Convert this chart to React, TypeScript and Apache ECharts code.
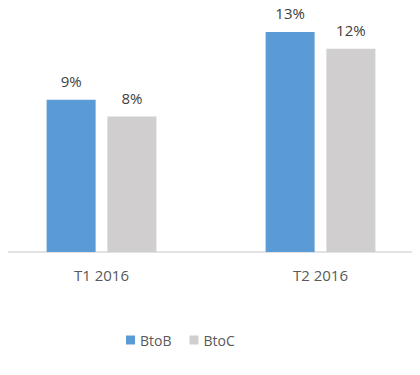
import React, { useEffect, useRef } from "react";
import * as echarts from "echarts";

const categories = ["T1 2016", "T2 2016"];
const seriesNames = ["BtoB", "BtoC"];
const btobValues = [9, 13];
const btocValues = [8, 12];

export default function App() {
  const ref = useRef<HTMLDivElement>(null);
  useEffect(() => {
    const chart = echarts.init(ref.current!, null, { renderer: "svg" });
    const font = "'Open Sans', sans-serif";
    chart.setOption({
      animation: false,
      textStyle: { fontFamily: font },
      grid: { left: 0, width: 438, top: 15, height: 237 },
      legend: {
        data: seriesNames,
        left: 129,
        top: 328,
        itemWidth: 9,
        itemHeight: 9,
        itemGap: 18,
        icon: "rect",
        textStyle: { color: "#595959", fontSize: 14, fontFamily: font },
      },
      xAxis: {
        type: "category",
        data: categories,
        axisLine: { lineStyle: { color: "#d9d9d9", width: 1.5 } },
        axisTick: { show: false },
        axisLabel: { color: "#595959", fontSize: 15, margin: 15, fontFamily: font },
      },
      yAxis: {
        type: "value",
        min: 0,
        max: 14,
        show: false,
        splitLine: { show: false },
      },
      series: [
        {
          name: seriesNames[0],
          type: "bar",
          data: btobValues,
          barWidth: 49,
          barGap: "24%",
          itemStyle: { color: "#5B9BD5" },
          label: {
            show: true,
            position: "top",
            distance: 11,
            formatter: "{c}%",
            color: "#404040",
            fontSize: 15,
            fontFamily: font,
          },
        },
        {
          name: seriesNames[1],
          type: "bar",
          data: btocValues,
          barWidth: 49,
          barGap: "24%",
          itemStyle: { color: "#D0CECE" },
          label: {
            show: true,
            position: "top",
            distance: 11,
            formatter: "{c}%",
            color: "#404040",
            fontSize: 15,
            fontFamily: font,
          },
        },
      ],
    });
    return () => chart.dispose();
  }, []);
  return (
    <div style={{ width: 420, height: 375, margin: -8, overflow: "hidden", position: "relative" }}>
      <div ref={ref} style={{ width: 438, height: 375, position: "absolute", left: -8, top: 0 }} />
    </div>
  );
}
